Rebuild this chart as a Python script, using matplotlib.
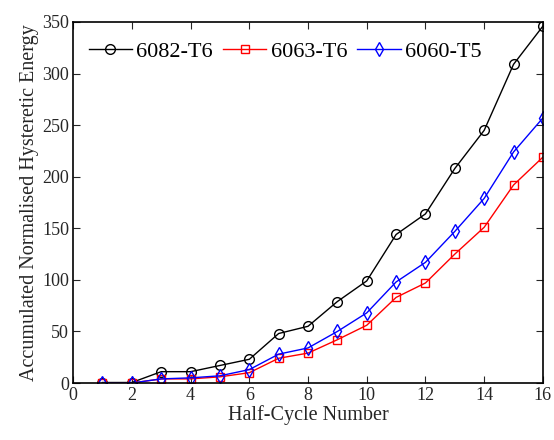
import matplotlib.pyplot as plt
import numpy as np

# accumulated normalised hysteretic energy per half-cycle
half_cycle = np.arange(1, 17)
e_6082_t6 = [0.5, 0.5, 11, 11, 17, 23, 48, 55, 79, 99, 144, 164, 208, 245, 309, 346]
e_6063_t6 = [0, 0, 4, 4, 6, 10, 24, 29, 42, 56, 83, 97, 125, 151, 192, 219]
e_6060_t5 = [0, 0, 4, 5, 7, 13, 28, 34, 50, 68, 98, 117, 147, 179, 224, 257]

plt.rcParams['font.family'] = ['Liberation Serif', 'DejaVu Serif']

fig = plt.figure(figsize=(5.54, 4.4), dpi=100)
ax = fig.add_axes([0.132, 0.1295, 0.848, 0.8205])

ax.plot(half_cycle, e_6082_t6, color='black', marker='o', mfc='none', ms=7, lw=1, label='6082-T6')
ax.plot(half_cycle, e_6063_t6, color='red', marker='s', mfc='none', ms=5.5, lw=1, label='6063-T6')
ax.plot(half_cycle, e_6060_t5, color='blue', marker='d', mfc='none', ms=7.5, lw=1, label='6060-T5')

ax.set_xlim(0, 16)
ax.set_ylim(0, 350)
ax.set_xticks(np.arange(0, 17, 2))
ax.set_yticks(np.arange(0, 351, 50))
ax.tick_params(direction='in', top=True, right=True, labelsize=13, colors='#262626', length=5, pad=3)
for s in ax.spines.values():
    s.set_linewidth(1.2)

ax.set_xlabel('Half-Cycle Number', fontsize=14.5, color='#262626', labelpad=1)
ax.set_ylabel('Accumulated Normalised Hysteretic Energy', fontsize=14.5, color='#262626', labelpad=2)

ax.legend(loc='upper left', ncol=3, frameon=False, fontsize=16, handlelength=1.95,
          columnspacing=0.45, handletextpad=0.2, borderaxespad=0.3, bbox_to_anchor=(0.0, 0.99))

fig.savefig('out.png', dpi=100)
